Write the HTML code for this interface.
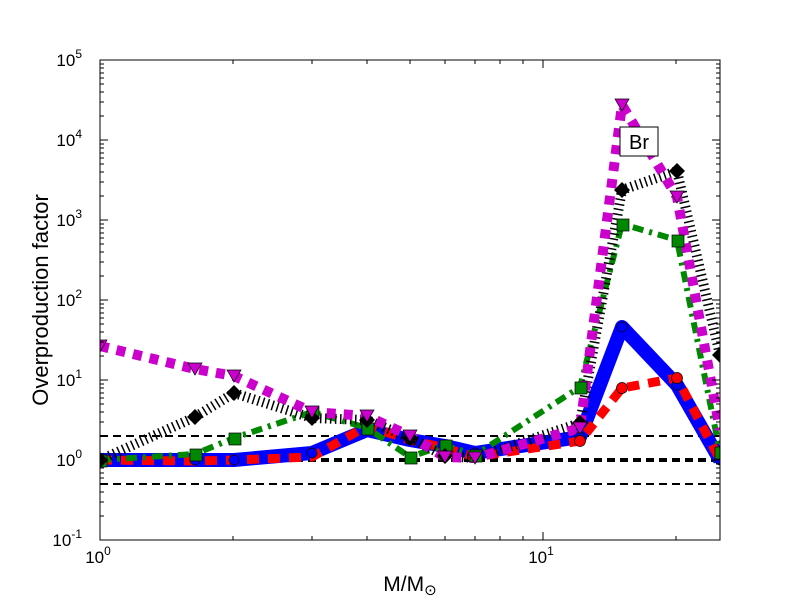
<!DOCTYPE html>
<html><head><style>body{margin:0;background:#fff}svg{display:block}</style></head><body>
<svg width="800" height="600" xmlns="http://www.w3.org/2000/svg" font-family="Liberation Sans, DejaVu Sans, sans-serif">
<rect width="800" height="600" fill="#fff"/>
<defs><clipPath id="c"><rect x="100" y="60" width="620" height="480"/></clipPath></defs>
<g clip-path="url(#c)" fill="none">
<line x1="100" y1="436" x2="720" y2="436" stroke="#000" stroke-width="2" stroke-dasharray="8 5"/>
<line x1="100" y1="484" x2="720" y2="484" stroke="#000" stroke-width="2" stroke-dasharray="8 5"/>
<line x1="100" y1="460" x2="720" y2="460" stroke="#000" stroke-width="4" stroke-dasharray="8 5"/>
<polyline stroke="#00f" stroke-width="14" stroke-linejoin="round" points="100,460 195,460 234,460 312,453 367,430 410,440 445,446 475,453 580,437 622,327 677,385 720,460"/>
<polyline stroke="#f00" stroke-width="9" stroke-dasharray="12 9" points="100,460 195,461 234,460 312,457 367,426 410,440 445,448 475,457 580,441 622,388 677,378 720,460"/>
<polyline stroke="#080" stroke-width="6" stroke-dasharray="11 6 3 6" points="100,460 195,454 234,438 312,412 367,428 410,457 445,445 475,455 580,387 622,224 677,240 720,452"/>
<polyline stroke="#000" stroke-width="10" stroke-dasharray="1.5 3.5" points="100,460 195,417 234,393 312,418 367,420 410,438 445,456 475,458 580,423 622,190 677,171 720,355"/>
<polyline stroke="#c0c" stroke-width="10" stroke-dasharray="9 8" points="100,346 195,369 234,376 312,412 367,416 410,436 445,457 475,458 580,428 622,105 677,197 720,430"/>
<g fill="#00f" stroke="#000" stroke-width="0.7">
<circle cx="100" cy="460" r="5"/><circle cx="195" cy="460" r="5"/><circle cx="234" cy="460" r="5"/><circle cx="312" cy="453" r="5"/><circle cx="367" cy="430" r="5"/><circle cx="410" cy="440" r="5"/><circle cx="445" cy="446" r="5"/><circle cx="475" cy="453" r="5"/><circle cx="580" cy="437" r="5"/><circle cx="622" cy="327" r="5"/><circle cx="677" cy="385" r="5"/><circle cx="720" cy="460" r="5"/></g>
<g fill="#f00" stroke="#000" stroke-width="0.7">
<circle cx="580" cy="441" r="5.5"/><circle cx="622" cy="388" r="5.5"/><circle cx="677" cy="378" r="5.5"/><circle cx="367" cy="426" r="5.5"/></g>
<g fill="#080" stroke="#000" stroke-width="0.7">
<rect x="95" y="455" width="12" height="12"/><rect x="190" y="449" width="12" height="12"/><rect x="229" y="433" width="12" height="12"/><rect x="307" y="407" width="12" height="12"/><rect x="362" y="423" width="12" height="12"/><rect x="405" y="452" width="12" height="12"/><rect x="440" y="440" width="12" height="12"/><rect x="470" y="450" width="12" height="12"/><rect x="575" y="382" width="12" height="12"/><rect x="617" y="219" width="12" height="12"/><rect x="672" y="235" width="12" height="12"/><rect x="715" y="447" width="12" height="12"/></g>
<g fill="#000">
<path d="M100,452l8,8l-8,8l-8,-8z M195,409l8,8l-8,8l-8,-8z M234,385l8,8l-8,8l-8,-8z M312,410l8,8l-8,8l-8,-8z M367,412l8,8l-8,8l-8,-8z M410,430l8,8l-8,8l-8,-8z M445,448l8,8l-8,8l-8,-8z M580,415l8,8l-8,8l-8,-8z M622,182l8,8l-8,8l-8,-8z M677,163l8,8l-8,8l-8,-8z M720,347l8,8l-8,8l-8,-8z"/></g>
<g fill="#c0c" stroke="#000" stroke-width="0.7">
<path d="M93,340h14l-7,12z M188,363h14l-7,12z M227,370h14l-7,12z M305,406h14l-7,12z M360,410h14l-7,12z M403,430h14l-7,12z M438,451h14l-7,12z M468,452h14l-7,12z M573,422h14l-7,12z M615,99h14l-7,12z M670,191h14l-7,12z"/></g>
</g>
<rect x="620" y="127" width="38" height="29" fill="#fff" stroke="#000"/>
<text x="639" y="149" font-size="20" text-anchor="middle">Br</text>
<rect x="100" y="60" width="620" height="480" fill="none" stroke="#000"/>
<g stroke="#000">
<path d="M100,540h8M100,460h8M100,380h8M100,300h8M100,220h8M100,140h8M100,60h8M720,540h-8M720,460h-8M720,380h-8M720,300h-8M720,220h-8M720,140h-8M720,60h-8M100,540v-8M543,540v-8M100,60v8M543,60v8"/>
<path d="M100,516h4M100,502h4M100,492h4M100,484h4M100,478h4M100,473h4M100,468h4M100,464h4M100,436h4M100,422h4M100,412h4M100,404h4M100,398h4M100,393h4M100,388h4M100,384h4M100,356h4M100,342h4M100,332h4M100,324h4M100,318h4M100,313h4M100,308h4M100,304h4M100,276h4M100,262h4M100,252h4M100,244h4M100,238h4M100,233h4M100,228h4M100,224h4M100,196h4M100,182h4M100,172h4M100,164h4M100,158h4M100,153h4M100,148h4M100,144h4M100,116h4M100,102h4M100,92h4M100,84h4M100,78h4M100,73h4M100,68h4M100,64h4"/>
<path d="M716,516h4M716,502h4M716,492h4M716,484h4M716,478h4M716,473h4M716,468h4M716,464h4M716,436h4M716,422h4M716,412h4M716,404h4M716,398h4M716,393h4M716,388h4M716,384h4M716,356h4M716,342h4M716,332h4M716,324h4M716,318h4M716,313h4M716,308h4M716,304h4M716,276h4M716,262h4M716,252h4M716,244h4M716,238h4M716,233h4M716,228h4M716,224h4M716,196h4M716,182h4M716,172h4M716,164h4M716,158h4M716,153h4M716,148h4M716,144h4M716,116h4M716,102h4M716,92h4M716,84h4M716,78h4M716,73h4M716,68h4M716,64h4"/>
<path d="M233,540v-4M312,540v-4M367,540v-4M410,540v-4M445,540v-4M475,540v-4M500,540v-4M523,540v-4M676,540v-4M233,60v4M312,60v4M367,60v4M410,60v4M445,60v4M475,60v4M500,60v4M523,60v4M676,60v4"/>
</g>
<g font-size="17" text-anchor="end">
<text x="82" y="546">10<tspan font-size="12" dy="-8">-1</tspan></text>
<text x="82" y="466">10<tspan font-size="12" dy="-8">0</tspan></text>
<text x="82" y="386">10<tspan font-size="12" dy="-8">1</tspan></text>
<text x="82" y="306">10<tspan font-size="12" dy="-8">2</tspan></text>
<text x="82" y="226">10<tspan font-size="12" dy="-8">3</tspan></text>
<text x="82" y="146">10<tspan font-size="12" dy="-8">4</tspan></text>
<text x="82" y="66">10<tspan font-size="12" dy="-8">5</tspan></text>
</g>
<g font-size="17" text-anchor="middle">
<text x="98" y="563">10<tspan font-size="12" dy="-8">0</tspan></text>
<text x="541" y="563">10<tspan font-size="12" dy="-8">1</tspan></text>
</g>
<text x="410" y="591" font-size="21" text-anchor="middle">M/M<tspan font-size="15" dy="4">⊙</tspan></text>
<text transform="translate(48,300) rotate(-90)" font-size="22" text-anchor="middle">Overproduction factor</text>
</svg>
</body></html>
